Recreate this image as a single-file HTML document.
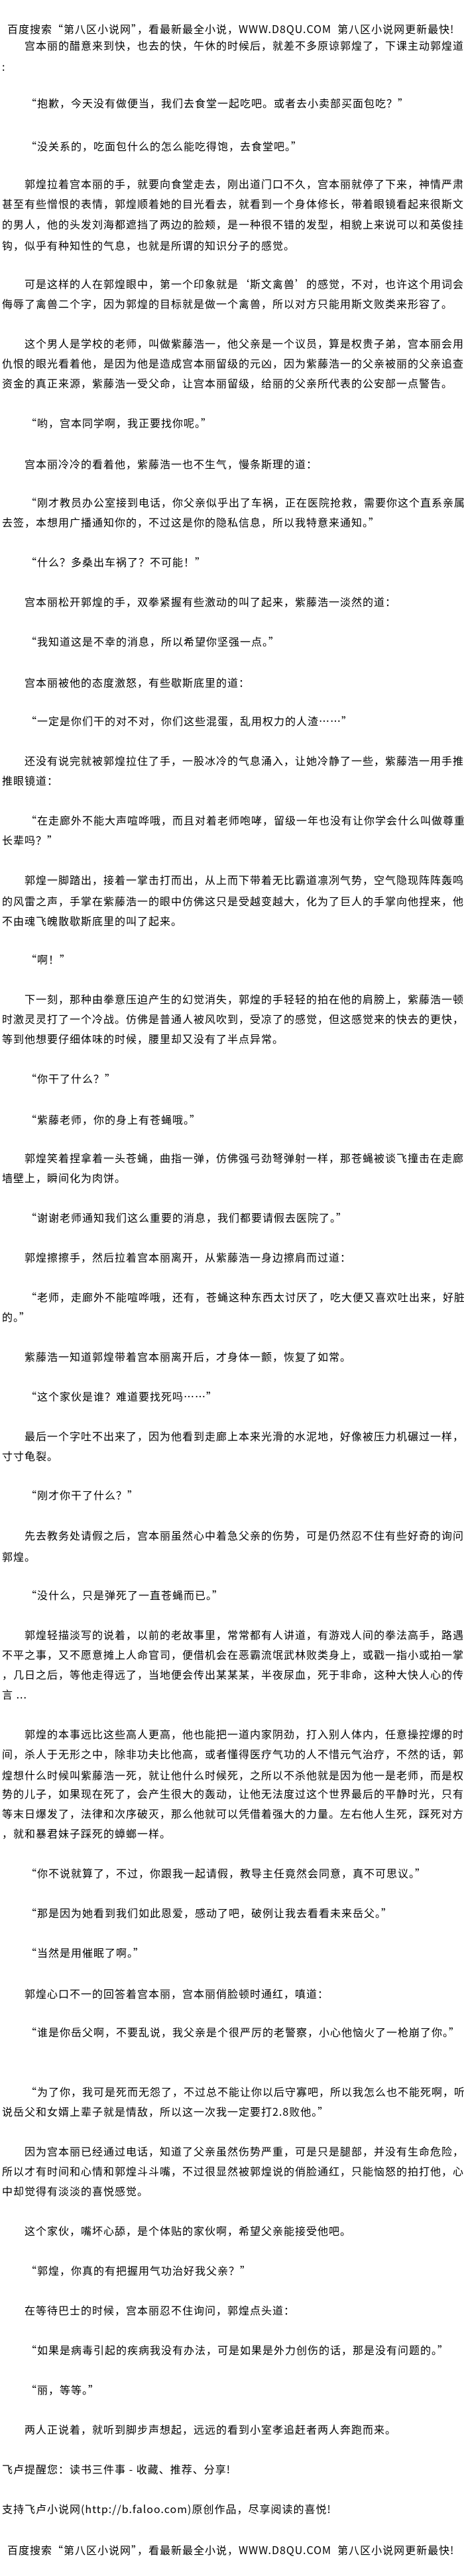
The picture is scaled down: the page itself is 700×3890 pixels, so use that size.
<!DOCTYPE html>
<html><head><meta charset="utf-8">
<style>
html,body{margin:0;padding:0;background:#fff;}
body{width:700px;height:3890px;position:relative;overflow:hidden;}
.l{position:absolute;left:3px;height:30px;line-height:30px;font-size:16px;letter-spacing:1px;white-space:nowrap;color:#000;
font-family:"WenQuanYi Zen Hei","Noto Sans CJK SC","Liberation Sans",sans-serif;}
.i{left:37px;}
.q{left:39px;}
.h{left:11px;}
</style></head><body>
<div class="l h" style="top:28px">百度搜索“第八区小说网”，看最新最全小说，WWW.D8QU.COM&nbsp;&nbsp;第八区小说网更新最快!</div>
<div class="l i" style="top:53px">宫本丽的醋意来到快，也去的快，午休的时候后，就差不多原谅郭煌了，下课主动郭煌道</div>
<div class="l" style="top:85px">:</div>
<div class="l q" style="top:140px">“抱歉，今天没有做便当，我们去食堂一起吃吧。或者去小卖部买面包吃？”</div>
<div class="l q" style="top:205px">“没关系的，吃面包什么的怎么能吃得饱，去食堂吧。”</div>
<div class="l i" style="top:262px">郭煌拉着宫本丽的手，就要向食堂走去，刚出道门口不久，宫本丽就停了下来，神情严肃</div>
<div class="l" style="top:292px">甚至有些憎恨的表情，郭煌顺着她的目光看去，就看到一个身体修长，带着眼镜看起来很斯文</div>
<div class="l" style="top:323px">的男人，他的头发刘海都遮挡了两边的脸颊，是一种很不错的发型，相貌上来说可以和英俊挂</div>
<div class="l" style="top:355px">钩，似乎有种知性的气息，也就是所谓的知识分子的感觉。</div>
<div class="l i" style="top:413px">可是这样的人在郭煌眼中，第一个印象就是‘斯文禽兽’的感觉，不对，也许这个用词会</div>
<div class="l" style="top:443px">侮辱了禽兽二个字，因为郭煌的目标就是做一个禽兽，所以对方只能用斯文败类来形容了。</div>
<div class="l i" style="top:503px">这个男人是学校的老师，叫做紫藤浩一，他父亲是一个议员，算是权贵子弟，宫本丽会用</div>
<div class="l" style="top:533px">仇恨的眼光看着他，是因为他是造成宫本丽留级的元凶，因为紫藤浩一的父亲被丽的父亲追查</div>
<div class="l" style="top:563px">资金的真正来源，紫藤浩一受父命，让宫本丽留级，给丽的父亲所代表的公安部一点警告。</div>
<div class="l q" style="top:623px">“哟，宫本同学啊，我正要找你呢。”</div>
<div class="l i" style="top:685px">宫本丽冷冷的看着他，紫藤浩一也不生气，慢条斯理的道：</div>
<div class="l q" style="top:743px">“刚才教员办公室接到电话，你父亲似乎出了车祸，正在医院抢救，需要你这个直系亲属</div>
<div class="l" style="top:773px">去签，本想用广播通知你的，不过这是你的隐私信息，所以我特意来通知。”</div>
<div class="l q" style="top:833px">“什么？多桑出车祸了？不可能！”</div>
<div class="l i" style="top:893px">宫本丽松开郭煌的手，双拳紧握有些激动的叫了起来，紫藤浩一淡然的道：</div>
<div class="l q" style="top:953px">“我知道这是不幸的消息，所以希望你坚强一点。”</div>
<div class="l i" style="top:1015px">宫本丽被他的态度激怒，有些歇斯底里的道：</div>
<div class="l q" style="top:1073px">“一定是你们干的对不对，你们这些混蛋，乱用权力的人渣……”</div>
<div class="l i" style="top:1133px">还没有说完就被郭煌拉住了手，一股冰冷的气息涌入，让她冷静了一些，紫藤浩一用手推</div>
<div class="l" style="top:1163px">推眼镜道：</div>
<div class="l q" style="top:1223px">“在走廊外不能大声喧哗哦，而且对着老师咆哮，留级一年也没有让你学会什么叫做尊重</div>
<div class="l" style="top:1253px">长辈吗？”</div>
<div class="l i" style="top:1313px">郭煌一脚踏出，接着一掌击打而出，从上而下带着无比霸道凛冽气势，空气隐现阵阵轰鸣</div>
<div class="l" style="top:1345px">的风雷之声，手掌在紫藤浩一的眼中仿佛这只是受越变越大，化为了巨人的手掌向他捏来，他</div>
<div class="l" style="top:1375px">不由魂飞魄散歇斯底里的叫了起来。</div>
<div class="l q" style="top:1433px">“啊！”</div>
<div class="l i" style="top:1493px">下一刻，那种由拳意压迫产生的幻觉消失，郭煌的手轻轻的拍在他的肩膀上，紫藤浩一顿</div>
<div class="l" style="top:1523px">时激灵灵打了一个冷战。仿佛是普通人被风吹到，受凉了的感觉，但这感觉来的快去的更快，</div>
<div class="l" style="top:1553px">等到他想要仔细体味的时候，腰里却又没有了半点异常。</div>
<div class="l q" style="top:1613px">“你干了什么？”</div>
<div class="l q" style="top:1675px">“紫藤老师，你的身上有苍蝇哦。”</div>
<div class="l i" style="top:1733px">郭煌笑着捏拿着一头苍蝇，曲指一弹，仿佛强弓劲弩弹射一样，那苍蝇被谈飞撞击在走廊</div>
<div class="l" style="top:1763px">墙壁上，瞬间化为肉饼。</div>
<div class="l q" style="top:1823px">“谢谢老师通知我们这么重要的消息，我们都要请假去医院了。”</div>
<div class="l i" style="top:1883px">郭煌擦擦手，然后拉着宫本丽离开，从紫藤浩一身边擦肩而过道：</div>
<div class="l q" style="top:1943px">“老师，走廊外不能喧哗哦，还有，苍蝇这种东西太讨厌了，吃大便又喜欢吐出来，好脏</div>
<div class="l" style="top:1973px">的。”</div>
<div class="l i" style="top:2033px">紫藤浩一知道郭煌带着宫本丽离开后，才身体一颤，恢复了如常。</div>
<div class="l q" style="top:2093px">“这个家伙是谁？难道要找死吗……”</div>
<div class="l i" style="top:2153px">最后一个字吐不出来了，因为他看到走廊上本来光滑的水泥地，好像被压力机碾过一样，</div>
<div class="l" style="top:2183px">寸寸龟裂。</div>
<div class="l q" style="top:2242px">“刚才你干了什么？”</div>
<div class="l i" style="top:2303px">先去教务处请假之后，宫本丽虽然心中着急父亲的伤势，可是仍然忍不住有些好奇的询问</div>
<div class="l" style="top:2335px">郭煌。</div>
<div class="l q" style="top:2393px">“没什么，只是弹死了一直苍蝇而已。”</div>
<div class="l i" style="top:2453px">郭煌轻描淡写的说着，以前的老故事里，常常都有人讲道，有游戏人间的拳法高手，路遇</div>
<div class="l" style="top:2483px">不平之事，又不愿意摊上人命官司，便借机会在恶霸流氓武林败类身上，或戳一指小或拍一掌</div>
<div class="l" style="top:2513px">，几日之后，等他走得远了，当地便会传出某某某，半夜尿血，死于非命，这种大快人心的传</div>
<div class="l" style="top:2543px">言 ...</div>
<div class="l i" style="top:2603px">郭煌的本事远比这些高人更高，他也能把一道内家阴劲，打入别人体内，任意操控爆的时</div>
<div class="l" style="top:2633px">间，杀人于无形之中，除非功夫比他高，或者懂得医疗气功的人不惜元气治疗，不然的话，郭</div>
<div class="l" style="top:2665px">煌想什么时候叫紫藤浩一死，就让他什么时候死，之所以不杀他就是因为他一是老师，而是权</div>
<div class="l" style="top:2693px">势的儿子，如果现在死了，会产生很大的轰动，让他无法度过这个世界最后的平静时光，只有</div>
<div class="l" style="top:2723px">等末日爆发了，法律和次序破灭，那么他就可以凭借着强大的力量。左右他人生死，踩死对方</div>
<div class="l" style="top:2753px">，就和暴君妹子踩死的蟑螂一样。</div>
<div class="l q" style="top:2813px">“你不说就算了，不过，你跟我一起请假，教导主任竟然会同意，真不可思议。”</div>
<div class="l q" style="top:2873px">“那是因为她看到我们如此恩爱，感动了吧，破例让我去看看未来岳父。”</div>
<div class="l q" style="top:2933px">“当然是用催眠了啊。”</div>
<div class="l i" style="top:2995px">郭煌心口不一的回答着宫本丽，宫本丽俏脸顿时通红，嗔道：</div>
<div class="l q" style="top:3053px">“谁是你岳父啊，不要乱说，我父亲是个很严厉的老警察，小心他恼火了一枪崩了你。”</div>
<div class="l q" style="top:3143px">“为了你，我可是死而无怨了，不过总不能让你以后守寡吧，所以我怎么也不能死啊，听</div>
<div class="l" style="top:3173px">说岳父和女婿上辈子就是情敌，所以这一次我一定要打2.8败他。”</div>
<div class="l i" style="top:3233px">因为宫本丽已经通过电话，知道了父亲虽然伤势严重，可是只是腿部，并没有生命危险，</div>
<div class="l" style="top:3263px">所以才有时间和心情和郭煌斗斗嘴，不过很显然被郭煌说的俏脸通红，只能恼怒的拍打他，心</div>
<div class="l" style="top:3293px">中却觉得有淡淡的喜悦感觉。</div>
<div class="l i" style="top:3353px">这个家伙，嘴坏心舔，是个体贴的家伙啊，希望父亲能接受他吧。</div>
<div class="l q" style="top:3413px">“郭煌，你真的有把握用气功治好我父亲？”</div>
<div class="l i" style="top:3473px">在等待巴士的时候，宫本丽忍不住询问，郭煌点头道：</div>
<div class="l q" style="top:3533px">“如果是病毒引起的疾病我没有办法，可是如果是外力创伤的话，那是没有问题的。”</div>
<div class="l q" style="top:3593px">“丽，等等。”</div>
<div class="l i" style="top:3653px">两人正说着，就听到脚步声想起，远远的看到小室孝追赶者两人奔跑而来。</div>
<div class="l" style="top:3713px">飞卢提醒您：读书三件事 - 收藏、推荐、分享!</div>
<div class="l" style="top:3773px">支持飞卢小说网(http://b.faloo.com)原创作品，尽享阅读的喜悦!</div>
<div class="l h" style="top:3835px">百度搜索“第八区小说网”，看最新最全小说，WWW.D8QU.COM&nbsp;&nbsp;第八区小说网更新最快!</div>
</body></html>
